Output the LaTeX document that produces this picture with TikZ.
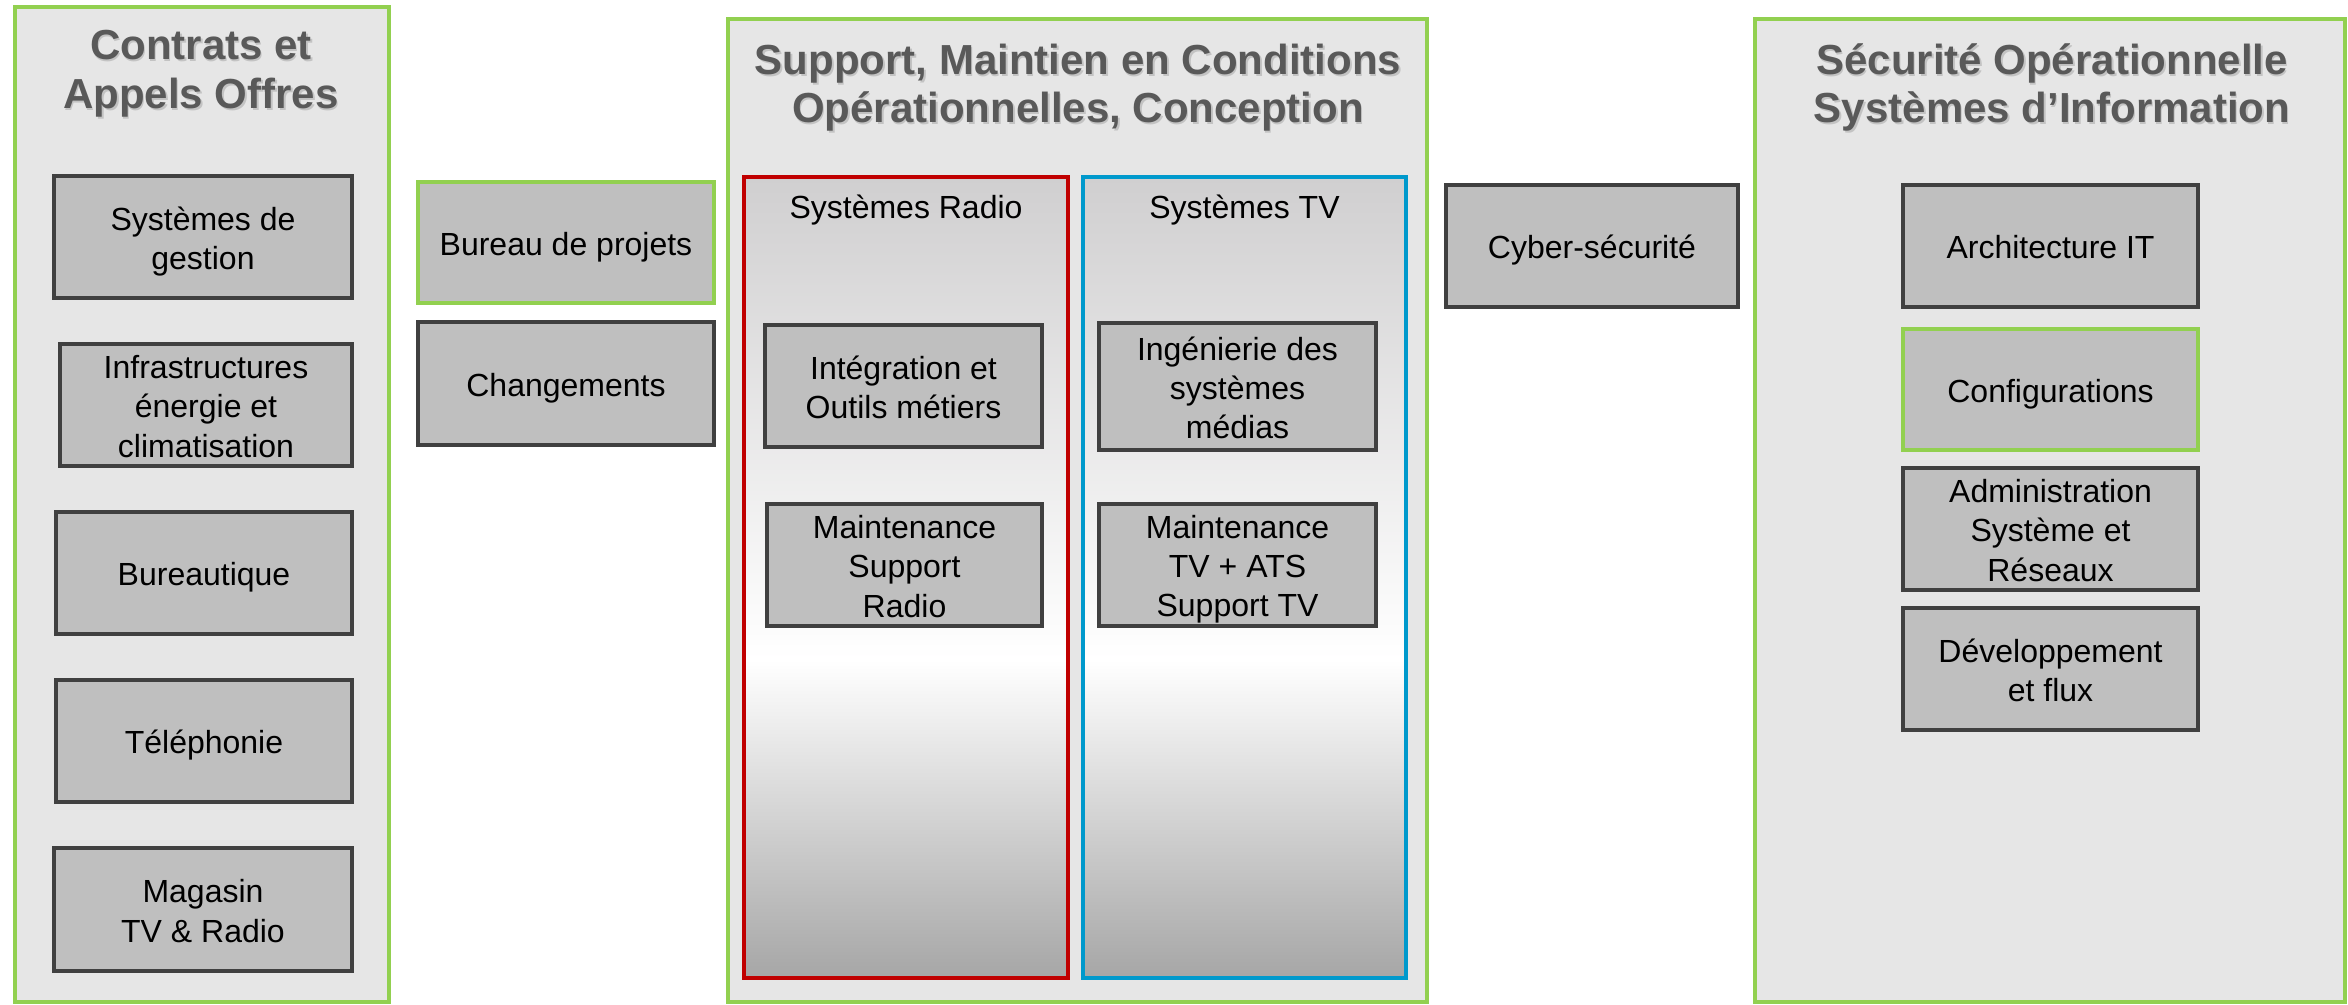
\documentclass[tikz,border=0pt]{standalone}
\usepackage{fontspec}
\usepackage{array}
\setmainfont{Liberation Sans}
\renewcommand\arraystretch{0}
\newcolumntype{Q}{>{\rule[-3.25pt]{0pt}{19.5pt}}c}
\newcommand\btxt[1]{\begin{tabular}{@{}Q@{}}#1\end{tabular}}
\definecolor{gr}{HTML}{92D050}
\definecolor{panelfill}{HTML}{E6E6E6}
\definecolor{boxfill}{HTML}{BFBFBF}
\definecolor{boxline}{HTML}{404040}
\definecolor{titlecol}{HTML}{595959}
\definecolor{radred}{HTML}{C00000}
\definecolor{tvblue}{HTML}{0099CC}
\definecolor{gradtop}{HTML}{D0CFD0}
\definecolor{gradbot}{HTML}{A6A6A6}
\begin{document}
\begin{tikzpicture}[x=0.5pt,y=-0.5pt,
 rect/.style args={#1/#2/#3/#4}{at={({(#1+#3)/2},{(#2+#4)/2})}, minimum width={(#3-#1)*0.5pt}, minimum height={(#4-#2)*0.5pt}},
 panel/.style={draw=gr, line width=2pt, fill=panelfill, inner sep=0pt, rectangle},
 unit/.style={draw=boxline, line width=1.8pt, fill=boxfill, inner sep=0pt, rectangle, font=\fontsize{16}{19.5}\selectfont},
 unitgreen/.style={unit, draw=gr},
 colframe/.style={line width=2pt, inner sep=0pt, rectangle},
 title/.style={font=\fontsize{21}{24.5}\selectfont\bfseries, text=titlecol, anchor=base, inner sep=0pt},
 tshadow/.style={title, text=black, opacity=0.15},
 collabel/.style={font=\fontsize{16}{19.5}\selectfont, anchor=base, inner sep=0pt}]
\useasboundingbox (0,0) rectangle (2348,1005);
\fill[white] (0,0) rectangle (2348,1005);

% panels
\node[panel, rect=15/7/389/1002] (pleft) {};
\node[panel, rect=728/19/1427/1002] (pmid) {};
\node[panel, rect=1755/19/2345/1002] (pright) {};

% titles
\node[tshadow] (t1as) at (202.5,61.5) {Contrats et};
\node[title] (t1a) at (201,60) {Contrats et};
\node[tshadow] (t1bs) at (202.5,110.5) {Appels Offres};
\node[title] (t1b) at (201,109) {Appels Offres};
\node[tshadow] (t2as) at (1079.5,76.5) {Support, Maintien en Conditions};
\node[title] (t2a) at (1078,75) {Support, Maintien en Conditions};
\node[tshadow] (t2bs) at (1079.5,124.5) {Opérationnelles, Conception};
\node[title] (t2b) at (1078,123) {Opérationnelles, Conception};
\node[tshadow] (t3as) at (2053.5,76.5) {Sécurité Opérationnelle};
\node[title] (t3a) at (2052,75) {Sécurité Opérationnelle};
\node[tshadow] (t3bs) at (2053.5,124.5) {Systèmes d’Information};
\node[title] (t3b) at (2052,123) {Systèmes d’Information};

% gradient columns
\shade[top color=gradtop, bottom color=white] (744,177) rectangle (1068,660);
\shade[top color=white, bottom color=gradbot] (744,660) rectangle (1068,978);
\shade[top color=gradtop, bottom color=white] (1083,177) rectangle (1406,660);
\shade[top color=white, bottom color=gradbot] (1083,660) rectangle (1406,978);
\node[colframe, draw=radred, rect=744/177/1068/978] (radio) {};
\node[colframe, draw=tvblue, rect=1083/177/1406/978] (tv) {};
\node[collabel] (radiolbl) at (906,219) {Systèmes Radio};
\node[collabel] (tvlbl) at (1244.5,219) {Systèmes TV};

% left column boxes
\node[unit, rect=54/176/352/298] (sg) {\btxt{Systèmes de\\gestion}};
\node[unit, rect=60/344/352/466] (infra) {\btxt{Infrastructures\\énergie et\\climatisation}};
\node[unit, rect=56/512/352/634] (bur) {\btxt{Bureautique}};
\node[unit, rect=56/680/352/802] (tel) {\btxt{Téléphonie}};
\node[unit, rect=54/848/352/971] (mag) {\btxt{Magasin\\TV \& Radio}};

% between
\node[unitgreen, rect=418/182/714/303] (bdp) {\btxt{Bureau de projets}};
\node[unit, rect=418/322/714/445] (chg) {\btxt{Changements}};

% middle boxes
\node[unit, rect=765/325/1042/447] (integ) {\btxt{Intégration et\\Outils métiers}};
\node[unit, rect=767/504/1042/626] (mradio) {\btxt{Maintenance\\Support\\Radio}};
\node[unit, rect=1099/323/1376/450] (inge) {\btxt{Ingénierie des\\systèmes\\médias}};
\node[unit, rect=1099/504/1376/626] (mtv) {\btxt{Maintenance\\TV + ATS\\Support TV}};

% cyber
\node[unit, rect=1446/185/1738/307] (cyber) {\btxt{Cyber-sécurité}};

% right boxes
\node[unit, rect=1903/185/2198/307] (arch) {\btxt{Architecture IT}};
\node[unitgreen, rect=1903/329/2198/450] (conf) {\btxt{Configurations}};
\node[unit, rect=1903/468/2198/590] (admin) {\btxt{Administration\\Système et\\Réseaux}};
\node[unit, rect=1903/608/2198/730] (dev) {\btxt{Développement\\et flux}};
\end{tikzpicture}
\end{document}
